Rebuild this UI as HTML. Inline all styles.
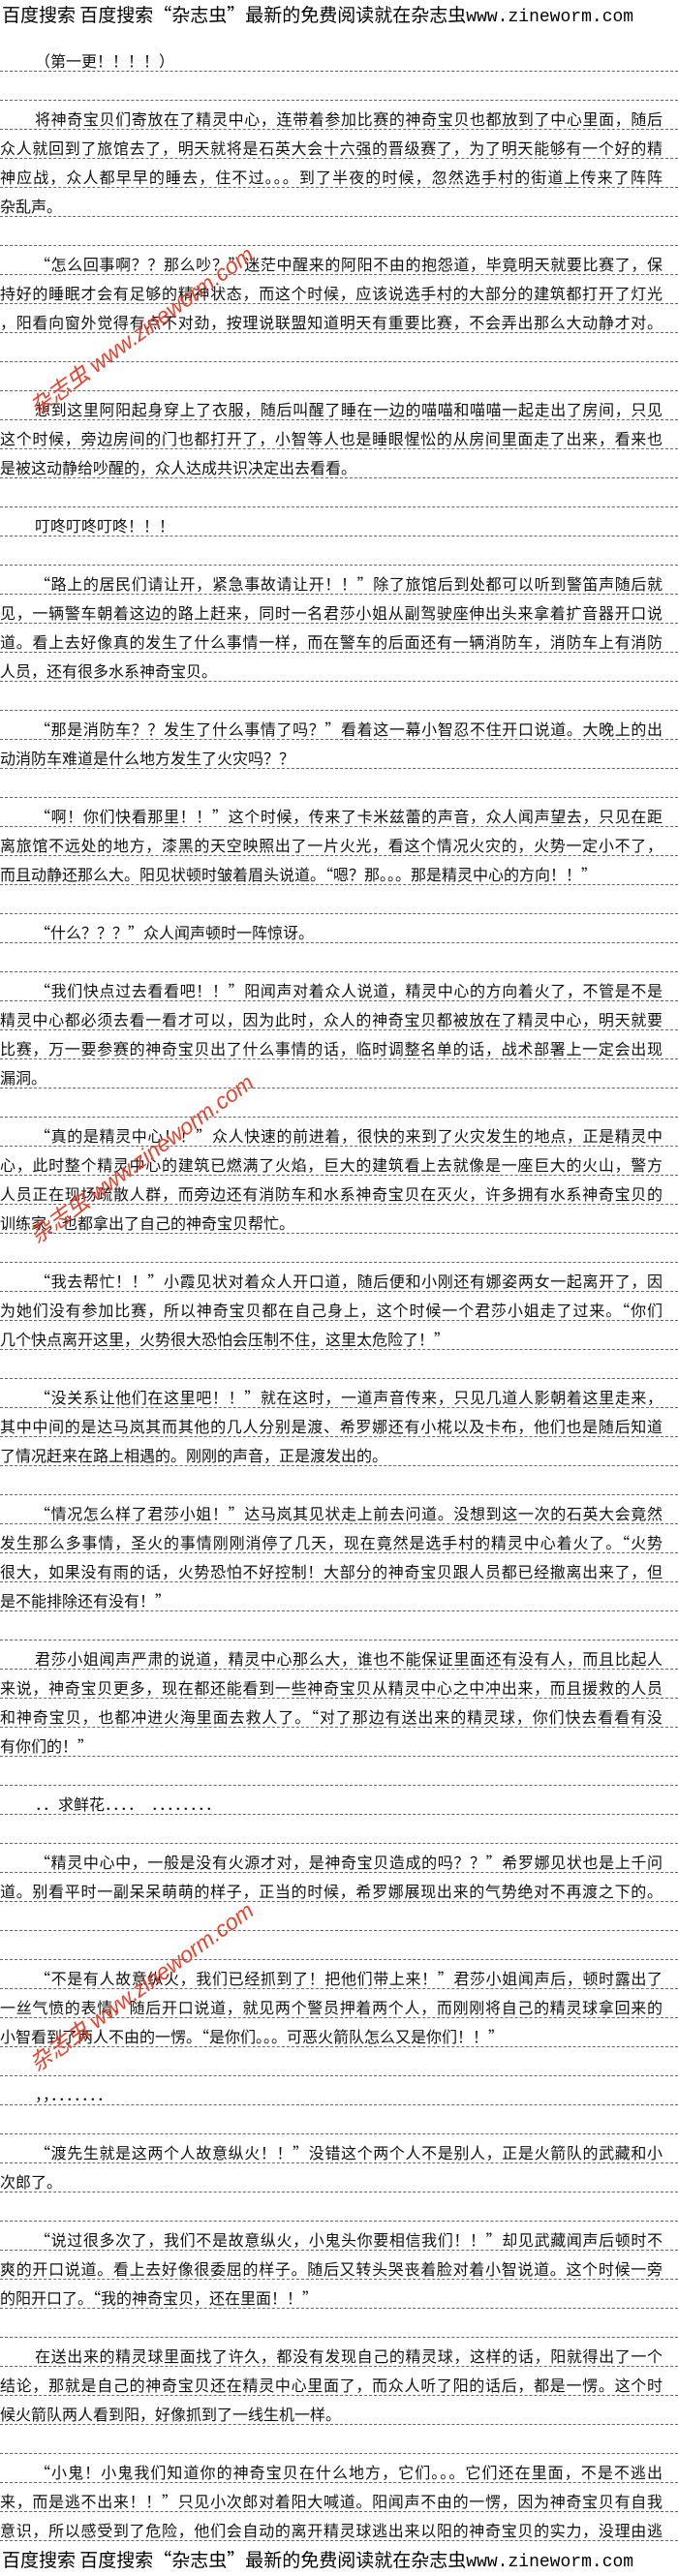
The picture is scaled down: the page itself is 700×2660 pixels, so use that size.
<!DOCTYPE html>
<html><head><meta charset="utf-8">
<style>
html,body{margin:0;padding:0;background:#fff;}
body{width:700px;height:2660px;position:relative;overflow:hidden;font-family:"Noto Sans CJK SC","Liberation Sans","WenQuanYi Zen Hei",sans-serif;color:#111;}
.hd{position:absolute;left:2px;font-size:19px;line-height:24px;white-space:nowrap;color:#000;}
.hd .m{font-family:"Liberation Mono",monospace;font-size:18px;}
.r{position:absolute;left:0;width:700px;height:22px;padding-top:7px;border-bottom:1px dashed #666;font-size:16px;line-height:22px;white-space:nowrap;}
.r span{display:inline-block;}
.r .in{padding-left:36px;}
.f span{display:block;width:684px;box-sizing:border-box;text-align:justify;text-align-last:justify;white-space:normal;height:22px;overflow:hidden;}
.wm{position:absolute;color:#e8412c;font-family:"Liberation Sans","Noto Sans CJK SC",sans-serif;font-size:23px;font-style:italic;white-space:nowrap;transform:translate(-50%,-50%) rotate(-36deg);left:145px;}
</style></head><body>
<div class="hd" style="top:3px">百度搜索 百度搜索“杂志虫”最新的免费阅读就在杂志虫<span class="m">www.zineworm.com</span></div>

<div class="r" style="top:44px"><span class="in">（第一更！！！！）</span></div>
<div class="r" style="top:74px"></div>
<div class="r f" style="top:104px"><span class="in">将神奇宝贝们寄放在了精灵中心，连带着参加比赛的神奇宝贝也都放到了中心里面，随后</span></div>
<div class="r f" style="top:134px"><span>众人就回到了旅馆去了，明天就将是石英大会十六强的晋级赛了，为了明天能够有一个好的精</span></div>
<div class="r f" style="top:164px"><span>神应战，众人都早早的睡去，住不过。。。到了半夜的时候，忽然选手村的街道上传来了阵阵</span></div>
<div class="r" style="top:194px"><span>杂乱声。</span></div>
<div class="r" style="top:224px"></div>
<div class="r f" style="top:254px"><span class="in">“怎么回事啊？？那么吵？”迷茫中醒来的阿阳不由的抱怨道，毕竟明天就要比赛了，保</span></div>
<div class="r f" style="top:284px"><span>持好的睡眠才会有足够的精神状态，而这个时候，应该说选手村的大部分的建筑都打开了灯光</span></div>
<div class="r f" style="top:314px"><span>，阳看向窗外觉得有点不对劲，按理说联盟知道明天有重要比赛，不会弄出那么大动静才对。</span></div>
<div class="r" style="top:344px"></div>
<div class="r" style="top:374px"></div>
<div class="r f" style="top:404px"><span class="in">想到这里阿阳起身穿上了衣服，随后叫醒了睡在一边的喵喵和喵喵一起走出了房间，只见</span></div>
<div class="r f" style="top:434px"><span>这个时候，旁边房间的门也都打开了，小智等人也是睡眼惺忪的从房间里面走了出来，看来也</span></div>
<div class="r" style="top:464px"><span>是被这动静给吵醒的，众人达成共识决定出去看看。</span></div>
<div class="r" style="top:494px"></div>
<div class="r" style="top:524px"><span class="in">叮咚叮咚叮咚！！！</span></div>
<div class="r" style="top:554px"></div>
<div class="r f" style="top:584px"><span class="in">“路上的居民们请让开，紧急事故请让开！！”除了旅馆后到处都可以听到警笛声随后就</span></div>
<div class="r f" style="top:614px"><span>见，一辆警车朝着这边的路上赶来，同时一名君莎小姐从副驾驶座伸出头来拿着扩音器开口说</span></div>
<div class="r f" style="top:644px"><span>道。看上去好像真的发生了什么事情一样，而在警车的后面还有一辆消防车，消防车上有消防</span></div>
<div class="r" style="top:674px"><span>人员，还有很多水系神奇宝贝。</span></div>
<div class="r" style="top:704px"></div>
<div class="r f" style="top:734px"><span class="in">“那是消防车？？发生了什么事情了吗？”看着这一幕小智忍不住开口说道。大晚上的出</span></div>
<div class="r" style="top:764px"><span>动消防车难道是什么地方发生了火灾吗？？</span></div>
<div class="r" style="top:794px"></div>
<div class="r f" style="top:824px"><span class="in">“啊！你们快看那里！！”这个时候，传来了卡米兹蕾的声音，众人闻声望去，只见在距</span></div>
<div class="r f" style="top:854px"><span>离旅馆不远处的地方，漆黑的天空映照出了一片火光，看这个情况火灾的，火势一定小不了，</span></div>
<div class="r" style="top:884px"><span>而且动静还那么大。阳见状顿时皱着眉头说道。“嗯？那。。。那是精灵中心的方向！！”</span></div>
<div class="r" style="top:914px"></div>
<div class="r" style="top:944px"><span class="in">“什么？？？”众人闻声顿时一阵惊讶。</span></div>
<div class="r" style="top:974px"></div>
<div class="r f" style="top:1004px"><span class="in">“我们快点过去看看吧！！”阳闻声对着众人说道，精灵中心的方向着火了，不管是不是</span></div>
<div class="r f" style="top:1034px"><span>精灵中心都必须去看一看才可以，因为此时，众人的神奇宝贝都被放在了精灵中心，明天就要</span></div>
<div class="r f" style="top:1064px"><span>比赛，万一要参赛的神奇宝贝出了什么事情的话，临时调整名单的话，战术部署上一定会出现</span></div>
<div class="r" style="top:1094px"><span>漏洞。</span></div>
<div class="r" style="top:1124px"></div>
<div class="r f" style="top:1154px"><span class="in">“真的是精灵中心！！”众人快速的前进着，很快的来到了火灾发生的地点，正是精灵中</span></div>
<div class="r f" style="top:1184px"><span>心，此时整个精灵中心的建筑已燃满了火焰，巨大的建筑看上去就像是一座巨大的火山，警方</span></div>
<div class="r f" style="top:1214px"><span>人员正在现场疏散人群，而旁边还有消防车和水系神奇宝贝在灭火，许多拥有水系神奇宝贝的</span></div>
<div class="r" style="top:1244px"><span>训练家，也都拿出了自己的神奇宝贝帮忙。</span></div>
<div class="r" style="top:1274px"></div>
<div class="r f" style="top:1304px"><span class="in">“我去帮忙！！”小霞见状对着众人开口道，随后便和小刚还有娜姿两女一起离开了，因</span></div>
<div class="r f" style="top:1334px"><span>为她们没有参加比赛，所以神奇宝贝都在自己身上，这个时候一个君莎小姐走了过来。“你们</span></div>
<div class="r" style="top:1364px"><span>几个快点离开这里，火势很大恐怕会压制不住，这里太危险了！”</span></div>
<div class="r" style="top:1394px"></div>
<div class="r f" style="top:1424px"><span class="in">“没关系让他们在这里吧！！”就在这时，一道声音传来，只见几道人影朝着这里走来，</span></div>
<div class="r f" style="top:1454px"><span>其中中间的是达马岚其而其他的几人分别是渡、希罗娜还有小椛以及卡布，他们也是随后知道</span></div>
<div class="r" style="top:1484px"><span>了情况赶来在路上相遇的。刚刚的声音，正是渡发出的。</span></div>
<div class="r" style="top:1514px"></div>
<div class="r f" style="top:1544px"><span class="in">“情况怎么样了君莎小姐！”达马岚其见状走上前去问道。没想到这一次的石英大会竟然</span></div>
<div class="r f" style="top:1574px"><span>发生那么多事情，圣火的事情刚刚消停了几天，现在竟然是选手村的精灵中心着火了。“火势</span></div>
<div class="r f" style="top:1604px"><span>很大，如果没有雨的话，火势恐怕不好控制！大部分的神奇宝贝跟人员都已经撤离出来了，但</span></div>
<div class="r" style="top:1634px"><span>是不能排除还有没有！”</span></div>
<div class="r" style="top:1664px"></div>
<div class="r f" style="top:1694px"><span class="in">君莎小姐闻声严肃的说道，精灵中心那么大，谁也不能保证里面还有没有人，而且比起人</span></div>
<div class="r f" style="top:1724px"><span>来说，神奇宝贝更多，现在都还能看到一些神奇宝贝从精灵中心之中冲出来，而且援救的人员</span></div>
<div class="r f" style="top:1754px"><span>和神奇宝贝，也都冲进火海里面去救人了。“对了那边有送出来的精灵球，你们快去看看有没</span></div>
<div class="r" style="top:1784px"><span>有你们的！”</span></div>
<div class="r" style="top:1814px"></div>
<div class="r" style="top:1844px"><span class="in">．．求鲜花．．．．　．．．．．．．．</span></div>
<div class="r" style="top:1874px"></div>
<div class="r f" style="top:1904px"><span class="in">“精灵中心中，一般是没有火源才对，是神奇宝贝造成的吗？？”希罗娜见状也是上千问</span></div>
<div class="r f" style="top:1934px"><span>道。别看平时一副呆呆萌萌的样子，正当的时候，希罗娜展现出来的气势绝对不再渡之下的。</span></div>
<div class="r" style="top:1964px"></div>
<div class="r" style="top:1994px"></div>
<div class="r f" style="top:2024px"><span class="in">“不是有人故意纵火，我们已经抓到了！把他们带上来！”君莎小姐闻声后，顿时露出了</span></div>
<div class="r f" style="top:2054px"><span>一丝气愤的表情，随后开口说道，就见两个警员押着两个人，而刚刚将自己的精灵球拿回来的</span></div>
<div class="r" style="top:2084px"><span>小智看到了两人不由的一愣。“是你们。。。可恶火箭队怎么又是你们！！”</span></div>
<div class="r" style="top:2114px"></div>
<div class="r" style="top:2144px"><span class="in">，，．．．．．．．</span></div>
<div class="r" style="top:2174px"></div>
<div class="r f" style="top:2204px"><span class="in">“渡先生就是这两个人故意纵火！！”没错这个两个人不是别人，正是火箭队的武藏和小</span></div>
<div class="r" style="top:2234px"><span>次郎了。</span></div>
<div class="r" style="top:2264px"></div>
<div class="r f" style="top:2294px"><span class="in">“说过很多次了，我们不是故意纵火，小鬼头你要相信我们！！”却见武藏闻声后顿时不</span></div>
<div class="r f" style="top:2324px"><span>爽的开口说道。看上去好像很委屈的样子。随后又转头哭丧着脸对着小智说道。这个时候一旁</span></div>
<div class="r" style="top:2354px"><span>的阳开口了。“我的神奇宝贝，还在里面！！”</span></div>
<div class="r" style="top:2384px"></div>
<div class="r f" style="top:2414px"><span class="in">在送出来的精灵球里面找了许久，都没有发现自己的精灵球，这样的话，阳就得出了一个</span></div>
<div class="r f" style="top:2444px"><span>结论，那就是自己的神奇宝贝还在精灵中心里面了，而众人听了阳的话后，都是一愣。这个时</span></div>
<div class="r" style="top:2474px"><span>候火箭队两人看到阳，好像抓到了一线生机一样。</span></div>
<div class="r" style="top:2504px"></div>
<div class="r f" style="top:2534px"><span class="in">“小鬼！小鬼我们知道你的神奇宝贝在什么地方，它们。。。它们还在里面，不是不逃出</span></div>
<div class="r f" style="top:2564px"><span>来，而是逃不出来！！”只见小次郎对着阳大喊道。阳闻声不由的一愣，因为神奇宝贝有自我</span></div>
<div class="r f" style="top:2594px"><span>意识，所以感受到了危险，他们会自动的离开精灵球逃出来以阳的神奇宝贝的实力，没理由逃</span></div>

<div class="hd" style="top:2631px">百度搜索 百度搜索“杂志虫”最新的免费阅读就在杂志虫<span class="m">www.zineworm.com</span></div>

<div class="wm" style="top:340px">杂志虫 www.zineworm.com</div>
<div class="wm" style="top:1195px">杂志虫 www.zineworm.com</div>
<div class="wm" style="top:2050px">杂志虫 www.zineworm.com</div>
</body></html>
